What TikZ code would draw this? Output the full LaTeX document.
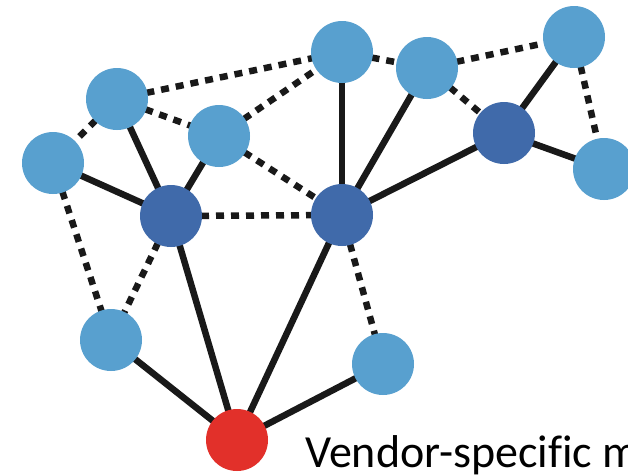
\documentclass[tikz,border=0pt]{standalone}
\usepackage{fontspec}
\setmainfont{Carlito}[Ligatures=NoCommon]
\definecolor{lightnode}{RGB}{88,160,207}
\definecolor{darknode}{RGB}{64,106,170}
\definecolor{rednode}{RGB}{226,48,42}
\begin{document}
\begin{tikzpicture}[x=1pt,y=-1pt,
  nodebase/.style={circle,minimum size=62pt,inner sep=0pt},
  lnode/.style={nodebase,fill=lightnode},
  dnode/.style={nodebase,fill=darknode},
  rnode/.style={nodebase,fill=rednode},
  solidlink/.style={line width=6.5pt,black!90},
  dashlink/.style={line width=6.5pt,black!90,dash pattern=on 8pt off 7pt}]
\clip (0,0) rectangle (628,474);
\fill[white] (0,0) rectangle (628,474);
% node centres
\coordinate (A) at (117,99);
\coordinate (B) at (219,136);
\coordinate (C) at (342,52);
\coordinate (D) at (427,68);
\coordinate (E) at (574,37);
\coordinate (F) at (604,169);
\coordinate (G) at (53,163);
\coordinate (H) at (171,216);
\coordinate (I) at (342,215);
\coordinate (J) at (504,133);
\coordinate (K) at (111,340);
\coordinate (L) at (383,364);
\coordinate (M) at (237,440);
% solid links
\draw[solidlink] (A) -- (H);
\draw[solidlink] (G) -- (H);
\draw[solidlink] (B) -- (H);
\draw[solidlink] (C) -- (I);
\draw[solidlink] (D) -- (I);
\draw[solidlink] (J) -- (I);
\draw[solidlink] (J) -- (E);
\draw[solidlink] (J) -- (F);
\draw[solidlink] (H) -- (M);
\draw[solidlink] (I) -- (M);
\draw[solidlink] (K) -- (M);
\draw[solidlink] (L) -- (M);
% dashed links
\draw[dashlink] (A) -- (C);
\draw[dashlink] (A) -- (G);
\draw[dashlink] (A) -- (B);
\draw[dashlink] (B) -- (C);
\draw[dashlink] (B) -- (I);
\draw[dashlink] (H) -- (I);
\draw[dashlink] (G) -- (K);
\draw[dashlink] (H) -- (K);
\draw[dashlink] (I) -- (L);
\draw[dashlink] (C) -- (D);
\draw[dashlink] (D) -- (E);
\draw[dashlink] (D) -- (J);
\draw[dashlink] (E) -- (F);
% node discs
\node[lnode] (nA) at (A) {};
\node[lnode] (nB) at (B) {};
\node[lnode] (nC) at (C) {};
\node[lnode] (nD) at (D) {};
\node[lnode] (nE) at (E) {};
\node[lnode] (nF) at (F) {};
\node[lnode] (nG) at (G) {};
\node[dnode] (nH) at (H) {};
\node[dnode] (nI) at (I) {};
\node[dnode] (nJ) at (J) {};
\node[lnode] (nK) at (K) {};
\node[lnode] (nL) at (L) {};
\node[rnode] (nM) at (M) {};
% caption (cut off at the right edge, as in the reference)
\node[anchor=base west,inner sep=0pt,font=\fontsize{46}{50}\selectfont] (cap) at (305,467) {Vendor-speci\kern0ptf\kern0pti\kern0ptc m};
\end{tikzpicture}
\end{document}
